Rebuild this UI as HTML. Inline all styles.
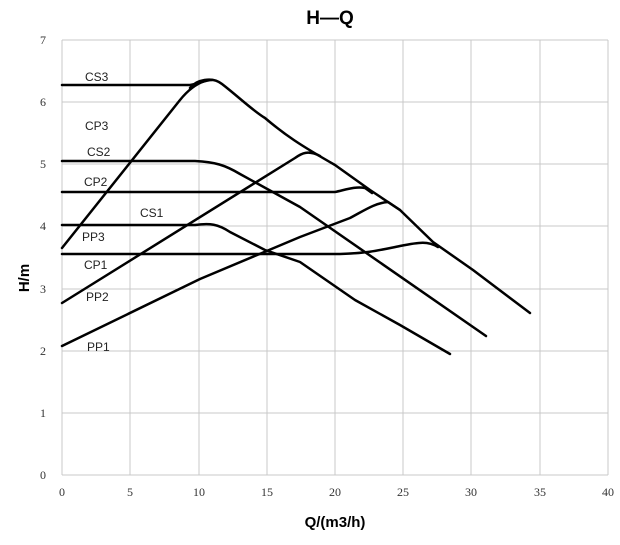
<!DOCTYPE html>
<html><head><meta charset="utf-8"><style>
body{margin:0;background:#fff}
</style></head><body>
<svg width="620" height="540" xmlns="http://www.w3.org/2000/svg" font-family="Liberation Sans, sans-serif">
<rect width="620" height="540" fill="#fff"/>
<g stroke="#c8c8c8" stroke-width="1">
<line x1="62" y1="40" x2="608" y2="40"/><line x1="62" y1="102" x2="608" y2="102"/><line x1="62" y1="164" x2="608" y2="164"/><line x1="62" y1="226" x2="608" y2="226"/><line x1="62" y1="289" x2="608" y2="289"/><line x1="62" y1="351" x2="608" y2="351"/><line x1="62" y1="413" x2="608" y2="413"/><line x1="62" y1="475" x2="608" y2="475"/>
<line x1="62" y1="40" x2="62" y2="475"/><line x1="130" y1="40" x2="130" y2="475"/><line x1="199" y1="40" x2="199" y2="475"/><line x1="267" y1="40" x2="267" y2="475"/><line x1="335" y1="40" x2="335" y2="475"/><line x1="403" y1="40" x2="403" y2="475"/><line x1="471" y1="40" x2="471" y2="475"/><line x1="540" y1="40" x2="540" y2="475"/><line x1="608" y1="40" x2="608" y2="475"/>
</g>
<g font-family="Liberation Serif, serif" font-size="12" fill="#333">
<text x="46" y="44" text-anchor="end">7</text><text x="46" y="106" text-anchor="end">6</text><text x="46" y="168" text-anchor="end">5</text><text x="46" y="230" text-anchor="end">4</text><text x="46" y="293" text-anchor="end">3</text><text x="46" y="355" text-anchor="end">2</text><text x="46" y="417" text-anchor="end">1</text><text x="46" y="479" text-anchor="end">0</text>
<g text-anchor="middle"><text x="62" y="496">0</text><text x="130" y="496">5</text><text x="199" y="496">10</text><text x="267" y="496">15</text><text x="335" y="496">20</text><text x="403" y="496">25</text><text x="471" y="496">30</text><text x="540" y="496">35</text><text x="608" y="496">40</text></g>
</g>
<text x="330" y="24" font-size="19" font-weight="bold" text-anchor="middle">H—Q</text>
<text x="335" y="527" font-size="15" font-weight="bold" text-anchor="middle">Q/(m3/h)</text>
<text transform="translate(29,278) rotate(-90)" font-size="15" font-weight="bold" text-anchor="middle">H/m</text>
<g fill="none" stroke="#000" stroke-width="2.5" stroke-linecap="round" stroke-linejoin="round">
<path d="M190,88 C196,80 212,76 222,84 C240,98 252,110 265,118 C285,135 300,145 335,165 L370,190 L400,210 L433,242 L473,270 L530,313"/>
<path d="M62,85 L190,85 C198,84 205,80 212,80"/>
<path d="M62,248 L180,100 C188,90 196,84 205,81"/>
<path d="M62,161 L195,161 C215,162 225,165 240,174 L300,207 L486,336"/>
<path d="M62,225 L195,225 C210,223 218,224 230,232 L265,250 L300,262 L355,300 L400,325 L450,354"/>
<path d="M62,192 L335,192 C345,190 355,186 365,188 L372,193"/>
<path d="M62,254 L340,254 C370,253 380,250 400,246 C420,242 428,241 438,247"/>
<path d="M62,303 L295,158 C302,153 308,150 320,156"/>
<path d="M62,346 L200,279 L300,237 L350,218 C365,210 375,203 388,202 L400,210"/>
</g>
<g font-size="12" fill="#222">
<text x="85" y="81">CS3</text><text x="85" y="130">CP3</text><text x="87" y="156">CS2</text><text x="84" y="186">CP2</text><text x="140" y="217">CS1</text><text x="82" y="241">PP3</text><text x="84" y="269">CP1</text><text x="86" y="301">PP2</text><text x="87" y="351">PP1</text>
</g>
</svg>
</body></html>
